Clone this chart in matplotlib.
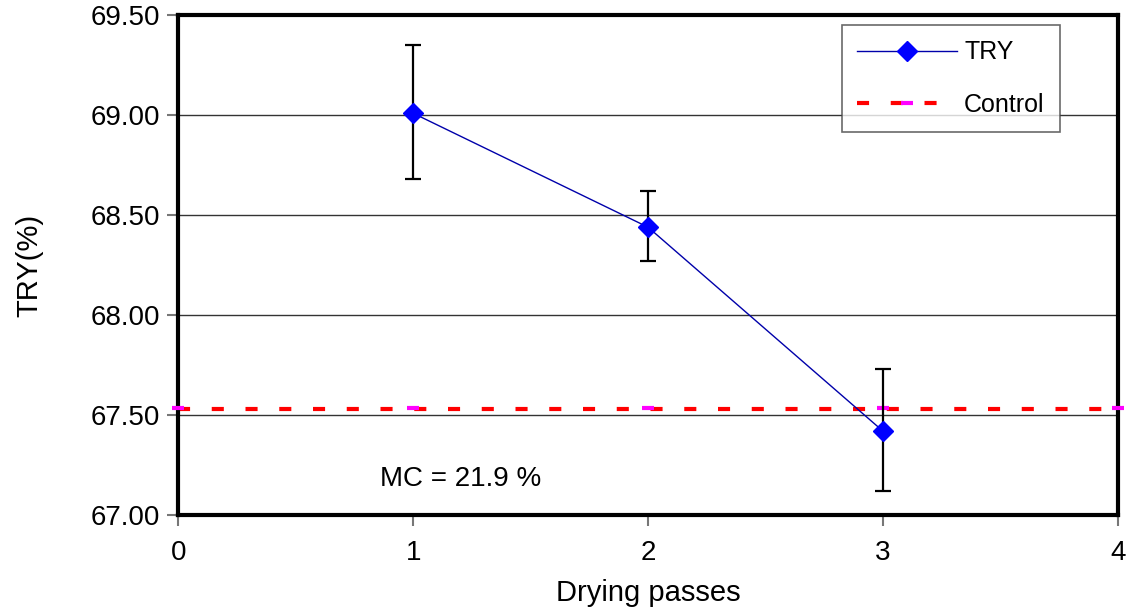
import matplotlib.pyplot as plt

plt.rcParams["font.family"] = ["Liberation Sans", "DejaVu Sans"]

passes = [1, 2, 3]
try_vals = [69.01, 68.44, 67.42]
err_lo = [0.33, 0.17, 0.30]
err_hi = [0.34, 0.18, 0.31]
control_x = [0, 1, 2, 3, 4]
control_val = [67.53] * len(control_x)
y_ticks = [67.0, 67.5, 68.0, 68.5, 69.0, 69.5]
x_ticks = [0, 1, 2, 3, 4]

fig = plt.figure(figsize=(11.28, 6.11), dpi=100)
ax = fig.add_axes([0.158, 0.157, 0.833, 0.818])

for y in y_ticks[1:-1]:
    ax.axhline(y, color="#333333", lw=1.0, zorder=1)

# control line, dashed red with small magenta dashes at each x
ctrl_line, = ax.plot(control_x, control_val, color="red", lw=3.0,
                     ls=(0, (2.9, 5.2)), zorder=2, clip_on=False)
ctrl_marks, = ax.plot(control_x, [v + 0.006 for v in control_val], ls="none",
                      marker="_", ms=8, mew=3, color="#ff00ff", zorder=3,
                      clip_on=False)

ax.errorbar(passes, try_vals, yerr=[err_lo, err_hi], fmt="none", ecolor="black",
            elinewidth=1.6, capsize=6, capthick=1.6, zorder=4)
try_line, = ax.plot(passes, try_vals, color="#0000aa", lw=1.0, marker="D",
                    ms=10, mfc="#0000ff", mec="#0000ff", zorder=5)

ax.set_xlim(0, 4)
ax.set_ylim(67.0, 69.5)
ax.set_xticks(x_ticks)
ax.set_yticks(y_ticks)
ax.set_yticklabels([f"{v:.2f}" for v in y_ticks])
ax.tick_params(axis="both", labelsize=20, color="#777777", length=8, width=1.5)
ax.tick_params(axis="y", pad=5)
ax.tick_params(axis="x", pad=10)

for s in ax.spines.values():
    s.set_linewidth(3)
    s.set_color("black")

ax.set_xlabel("Drying passes", fontsize=21, labelpad=9)
ax.set_ylabel("TRY(%)", fontsize=21, labelpad=34)

ax.text(0.86, 67.18, "MC = 21.9 %", fontsize=20, va="center")

leg = ax.legend([try_line, (ctrl_line, ctrl_marks)], ["TRY", "Control"],
                loc="upper right", bbox_to_anchor=(0.938, 0.98), fontsize=18,
                frameon=True, fancybox=False, edgecolor="#444444",
                handlelength=4.0, labelspacing=1.15, borderpad=0.6,
                handletextpad=0.3, borderaxespad=0)
leg.get_frame().set_linewidth(1.2)
leg.set_zorder(6)

fig.savefig("out.png", dpi=100)
